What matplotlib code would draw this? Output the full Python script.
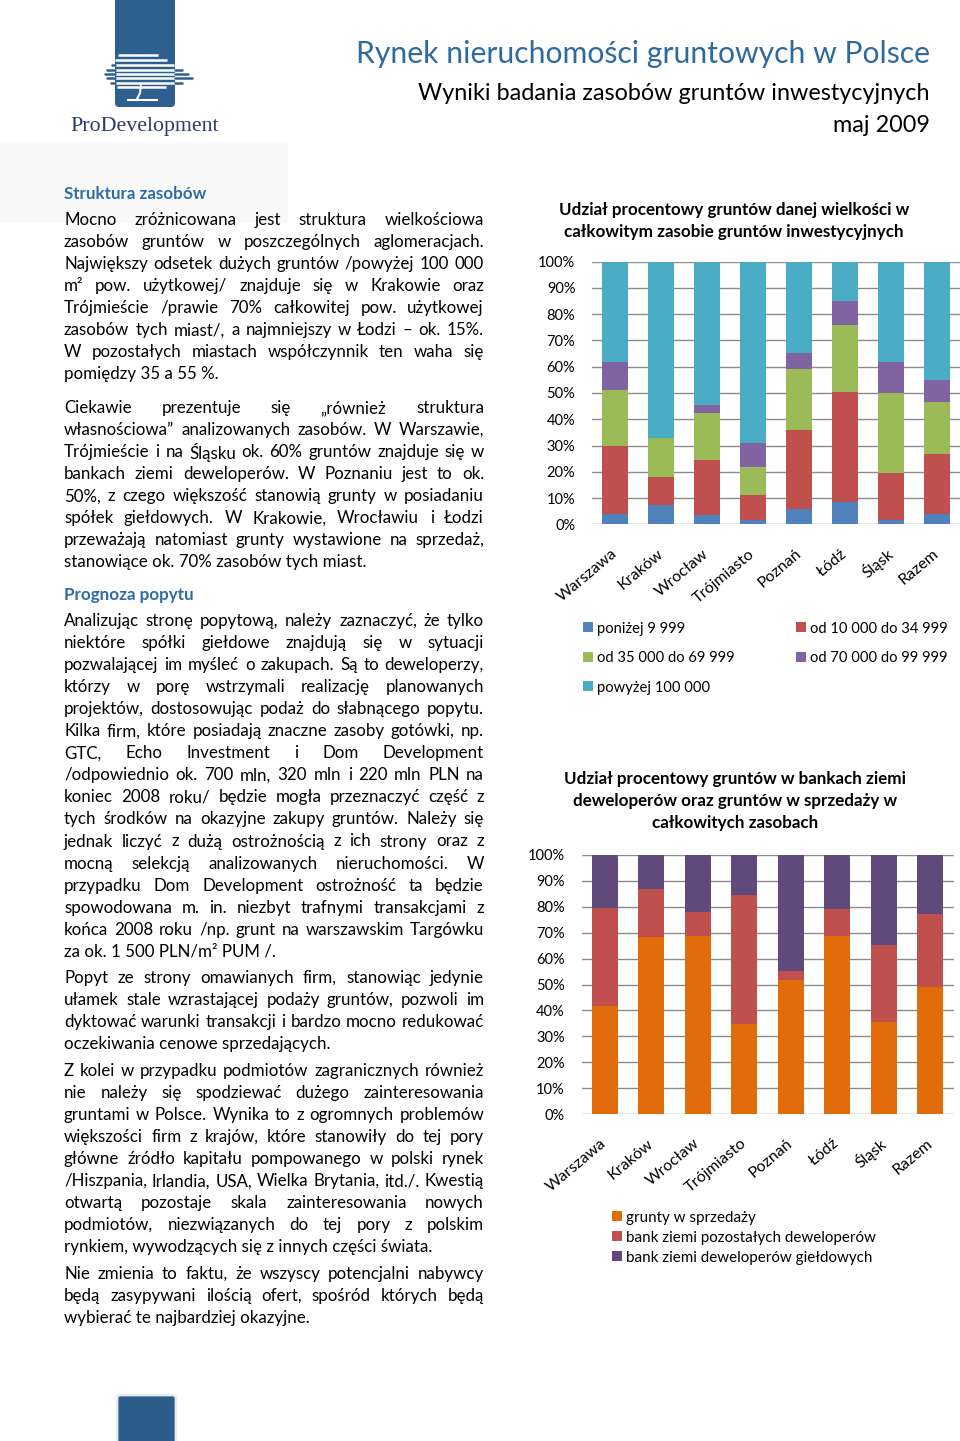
import numpy as np
import matplotlib
matplotlib.use('Agg')
import matplotlib.pyplot as plt
from matplotlib.patches import Rectangle, FancyBboxPatch

FONT = ['Lato', 'DejaVu Sans']
plt.rcParams['font.family'] = FONT

# ---- data ----
cities = ['Warszawa', 'Kraków', 'Wrocław', 'Trójmiasto', 'Poznań', 'Łódź', 'Śląsk', 'Razem']

size_labels = ['poniżej 9 999', 'od 10 000 do 34 999', 'od 35 000 do 69 999',
               'od 70 000 do 99 999', 'powyżej 100 000']
below_10k = [4.0, 7.5, 3.5, 1.5, 6.0, 8.6, 1.8, 4.0]
from_10k_35k = [26.0, 10.5, 21.0, 9.5, 30.0, 41.8, 17.9, 22.6]
from_35k_70k = [21.0, 15.0, 18.0, 10.7, 23.0, 25.5, 30.2, 20.1]
from_70k_100k = [10.7, 0.0, 2.8, 9.4, 6.1, 9.3, 11.9, 8.1]
above_100k = [38.3, 67.0, 54.7, 68.9, 34.9, 14.8, 38.2, 45.2]
size_colors = ['#4f81bd', '#c0504d', '#9bbb59', '#8064a2', '#4bacc6']

owner_labels = ['grunty w sprzedaży', 'bank ziemi pozostałych deweloperów',
                'bank ziemi deweloperów giełdowych']
for_sale = [41.7, 68.2, 68.7, 34.7, 51.9, 68.7, 35.4, 49.2]
other_dev = [38.0, 18.7, 9.4, 50.0, 3.4, 10.6, 29.9, 28.0]
listed_dev = [20.3, 13.1, 21.9, 15.3, 44.7, 20.7, 34.7, 22.8]
owner_colors = ['#e36c0a', '#c0504d', '#604a7b']

pct_ticks = list(range(0, 101, 10))

para1 = ["Mocno zróżnicowana jest struktura wielkościowa",
         "zasobów gruntów w poszczególnych aglomeracjach.",
         "Największy odsetek dużych gruntów /powyżej 100 000",
         "m² pow. użytkowej/ znajduje się w Krakowie oraz",
         "Trójmieście /prawie 70% całkowitej pow. użytkowej",
         "zasobów tych miast/, a najmniejszy w Łodzi – ok. 15%.",
         "W pozostałych miastach współczynnik ten waha się",
         "pomiędzy 35 a 55 %."]
para2 = ["Ciekawie prezentuje się „również struktura",
         "własnościowa” analizowanych zasobów. W Warszawie,",
         "Trójmieście i na Śląsku ok. 60% gruntów znajduje się w",
         "bankach ziemi deweloperów. W Poznaniu jest to ok.",
         "50%, z czego większość stanowią grunty w posiadaniu",
         "spółek giełdowych. W Krakowie, Wrocławiu i Łodzi",
         "przeważają natomiast grunty wystawione na sprzedaż,",
         "stanowiące ok. 70% zasobów tych miast."]
para3 = ["Analizując stronę popytową, należy zaznaczyć, że tylko",
         "niektóre spółki giełdowe znajdują się w sytuacji",
         "pozwalającej im myśleć o zakupach. Są to deweloperzy,",
         "którzy w porę wstrzymali realizację planowanych",
         "projektów, dostosowując podaż do słabnącego popytu.",
         "Kilka firm, które posiadają znaczne zasoby gotówki, np.",
         "GTC, Echo Investment i Dom Development",
         "/odpowiednio ok. 700 mln, 320 mln i 220 mln PLN na",
         "koniec 2008 roku/ będzie mogła przeznaczyć część z",
         "tych środków na okazyjne zakupy gruntów. Należy się",
         "jednak liczyć z dużą ostrożnością z ich strony oraz z",
         "mocną selekcją analizowanych nieruchomości. W",
         "przypadku Dom Development ostrożność ta będzie",
         "spowodowana m. in. niezbyt trafnymi transakcjami z",
         "końca 2008 roku /np. grunt na warszawskim Targówku",
         "za ok. 1 500 PLN/m² PUM /."]
para4 = ["Popyt ze strony omawianych firm, stanowiąc jedynie",
         "ułamek stale wzrastającej podaży gruntów, pozwoli im",
         "dyktować warunki transakcji i bardzo mocno redukować",
         "oczekiwania cenowe sprzedających."]
para5 = ["Z kolei w przypadku podmiotów zagranicznych również",
         "nie należy się spodziewać dużego zainteresowania",
         "gruntami w Polsce. Wynika to z ogromnych problemów",
         "większości firm z krajów, które stanowiły do tej pory",
         "główne źródło kapitału pompowanego w polski rynek",
         "/Hiszpania, Irlandia, USA, Wielka Brytania, itd./. Kwestią",
         "otwartą pozostaje skala zainteresowania nowych",
         "podmiotów, niezwiązanych do tej pory z polskim",
         "rynkiem, wywodzących się z innych części świata."]
para6 = ["Nie zmienia to faktu, że wszyscy potencjalni nabywcy",
         "będą zasypywani ilością ofert, spośród których będą",
         "wybierać te najbardziej okazyjne."]

# ---- page ----
fig = plt.figure(figsize=(9.6, 14.41), dpi=100)
bg = fig.add_axes([0, 0, 1, 1])
bg.set_xlim(0, 960)
bg.set_ylim(1441, 0)
bg.axis('off')
renderer = fig.canvas.get_renderer()

BLUE = '#2e6a9e'
HEAD = '#2f6ca3'
DY = 2  # va='center' sits a touch high compared to the reference


def text_width(s, size, weight='normal', family=FONT):
    t = bg.text(0, 0, s, fontsize=size, fontweight=weight, family=family)
    w = t.get_window_extent(renderer).width
    t.remove()
    return w


def fit_size(s, target, weight='normal', family=FONT):
    return 10 * target / text_width(s, 10, weight, family)


def put(x, y, s, **kw):
    kw.setdefault('va', 'center')
    return bg.text(x, y + DY, s, **kw)


# logo
LOGO = '#2d5f8f'
bg.add_patch(Rectangle((0, 143), 288, 80, fc='#f9f9fa', ec='none'))
bg.add_patch(FancyBboxPatch((115, -10), 60, 117, boxstyle='round,pad=0,rounding_size=4',
                            fc=LOGO, ec='none'))
stripes = [(55, 118, 158), (60, 115, 167), (65, 112, 174), (70, 107, 182),
           (74, 105, 188), (78, 107, 192), (83, 111, 182), (87, 117, 166)]
for y, x0, x1 in stripes:
    bg.plot([max(x0, 115), min(x1, 175)], [y, y], color='white', lw=1.8, solid_capstyle='butt')
    if x0 < 115:
        bg.plot([x0, 115], [y, y], color=LOGO, lw=1.8, solid_capstyle='round')
    if x1 > 175:
        bg.plot([175, x1], [y, y], color=LOGO, lw=1.8, solid_capstyle='round')
bg.plot([141, 140, 137], [84, 93, 99], color='white', lw=1.5)
bg.plot([128, 157], [100, 100], color='white', lw=1.5)
sz = fit_size('ProDevelopment', 148, family=['Liberation Serif'])
put(145, 125, 'ProDevelopment', fontsize=sz, family=['Liberation Serif'],
    color='#2b3d6b', ha='center')
bg.add_patch(FancyBboxPatch((117, 1395), 59, 50, boxstyle='round,pad=0,rounding_size=3',
                            fc='#2b5c8a', ec='#e6edf5', lw=2))

# titles
s = 'Rynek nieruchomości gruntowych w Polsce'
put(930, 52, s, fontsize=fit_size(s, 575), color=BLUE, ha='right')
s = 'Wyniki badania zasobów gruntów inwestycyjnych'
sub = fit_size(s, 512)
put(930, 92, s, fontsize=sub, color='black', ha='right')
put(930, 123, 'maj 2009', fontsize=sub, color='black', ha='right')

# body text, justified line by line
X0, X1 = 64, 484
body = fit_size('stanowiące ok. 70% zasobów tych miast.', 302)
LH = 22.05


def paragraph(lines, y0):
    for i, line in enumerate(lines):
        y = y0 + i * LH
        words = line.split()
        if i == len(lines) - 1 or len(words) < 2:
            put(X0, y, line, fontsize=body, ha='left')
            continue
        widths = [text_width(w, body) for w in words]
        gap = (X1 - X0 - sum(widths)) / (len(words) - 1)
        x = X0
        for w, wd in zip(words, widths):
            put(x, y, w, fontsize=body, ha='left')
            x += wd + gap


hs = fit_size('Struktura zasobów', 143, weight='bold')
put(X0, 192, 'Struktura zasobów', fontsize=hs, fontweight='bold', color=HEAD)
paragraph(para1, 218)
paragraph(para2, 406)
put(X0, 593, 'Prognoza popytu', fontsize=hs, fontweight='bold', color=HEAD)
paragraph(para3, 619)
paragraph(para4, 976)
paragraph(para5, 1069)
paragraph(para6, 1272)

title_size = fit_size('Udział procentowy gruntów danej wielkości w', 351, weight='bold')


# charts
def stacked(rect, series, colors, title, title_x, title_y):
    ax = fig.add_axes(rect)
    x = np.arange(len(cities))
    bottom = np.zeros(len(cities))
    for vals, c in zip(series, colors):
        ax.bar(x, vals, 0.56, bottom=bottom, color=c, zorder=3)
        bottom += np.array(vals)
    ax.set_xlim(-0.5, len(cities) - 0.5)
    ax.set_ylim(0, 100)
    ax.set_yticks(pct_ticks)
    ax.set_yticklabels([f'{v}%' for v in pct_ticks])
    ax.yaxis.grid(True, color='#8c8c8c', lw=1.0)
    ax.set_axisbelow(True)
    for sp in ax.spines.values():
        sp.set_visible(False)
    ax.set_xticks(x)
    ax.set_xticklabels(cities, rotation=40, ha='right', va='center', rotation_mode='anchor')
    ax.tick_params(axis='both', length=0, labelsize=10.5)
    ax.tick_params(axis='x', labelsize=11.5, pad=20)
    ax.tick_params(axis='y', pad=12)
    ax.patch.set_alpha(0)
    for i, line in enumerate(title):
        put(title_x, title_y + i * 22, line, fontsize=title_size, fontweight='bold', ha='center')
    return ax


stacked([592 / 960, 1 - 524.3 / 1441, 368 / 960, (524.3 - 261.7) / 1441],
        [below_10k, from_10k_35k, from_35k_70k, from_70k_100k, above_100k], size_colors,
        ['Udział procentowy gruntów danej wielkości w',
         'całkowitym zasobie gruntów inwestycyjnych'], 734, 208)

stacked([581.5 / 960, 1 - 1114 / 1441, 372 / 960, (1114 - 855) / 1441],
        [for_sale, other_dev, listed_dev], owner_colors,
        ['Udział procentowy gruntów w bankach ziemi',
         'deweloperów oraz gruntów w sprzedaży w',
         'całkowitych zasobach'], 735, 777)

# legends
for i, (lab, c) in enumerate(zip(size_labels, size_colors)):
    lx = [583, 796][i % 2]
    ly = 627 + (i // 2) * 29.5
    bg.add_patch(Rectangle((lx, ly - 5), 10, 10, fc=c, ec='none'))
    put(lx + 14, ly, lab, fontsize=10.6, ha='left')

for i, (lab, c) in enumerate(zip(owner_labels, owner_colors)):
    ly = 1216 + i * 20
    bg.add_patch(Rectangle((612, ly - 5), 10, 10, fc=c, ec='none'))
    put(626, ly, lab, fontsize=10.9, ha='left')

fig.savefig('out.png', dpi=100)
